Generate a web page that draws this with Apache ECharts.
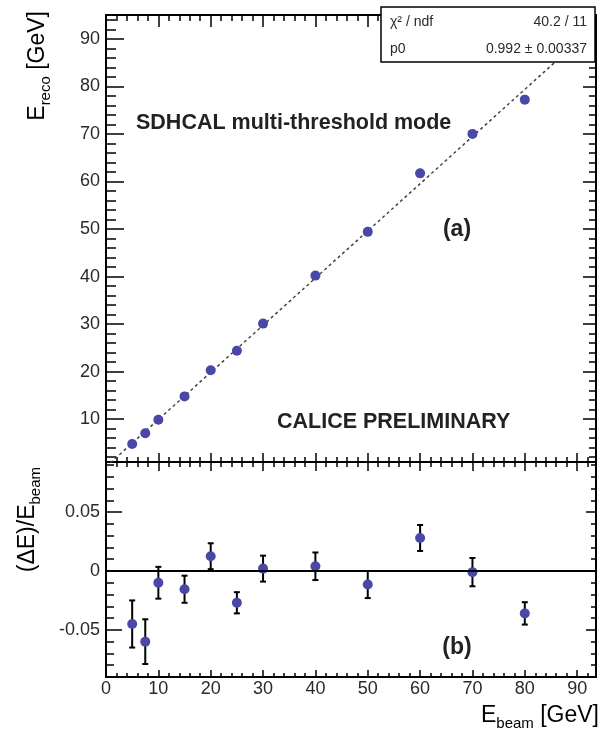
<!DOCTYPE html>
<html>
<head>
<meta charset="utf-8">
<script src="https://cdn.jsdelivr.net/npm/echarts@6/dist/echarts.min.js"></script>
<style>
  html, body { margin: 0; padding: 0; background: #fff; }
  #chart { width: 600px; height: 729px; }
</style>
</head>
<body>
<div id="chart"></div>
<script>
// Beam energies and reconstructed energies (GeV)
const beamEnergy = [5, 7.5, 10, 15, 20, 25, 30, 40, 50, 60, 70, 80];
const recoEnergy = [4.8, 7.05, 9.9, 14.8, 20.3, 24.4, 30.1, 40.2, 49.4, 61.7, 70.0, 77.2];
// Relative deviation (E_reco - E_beam)/E_beam and its uncertainty
const relDeviation = [-0.045, -0.060, -0.010, -0.0155, 0.0125, -0.027, 0.002, 0.004, -0.0115, 0.028, -0.001, -0.036];
const relDeviationErr = [0.020, 0.019, 0.0135, 0.0115, 0.011, 0.009, 0.011, 0.0117, 0.0115, 0.011, 0.012, 0.0095];
// Linear fit E_reco = p0 * E_beam
const fitP0 = 0.992;
const fitP0Err = 0.00337;
const fitChi2 = 40.2;
const fitNdf = 11;
// Axis ranges and tick values
const xRange = [0, 93.6];
const topYRange = [1, 95];
const bottomYRange = [-0.09, 0.0925];
const topYTicks = [10, 20, 30, 40, 50, 60, 70, 80, 90];
const bottomYTicks = [-0.05, 0, 0.05];

const FONT = "'Liberation Sans', Arial, sans-serif";
const INK = '#000';
const TEXT = '#2a2a2a';
const MARK = '#4b47a6';

// Minor tick positions between the labelled ones
const topYMinor = [];
for (let v = 2; v < topYRange[1]; v += 2) if (v % 10 !== 0) topYMinor.push(v);
const bottomYMinor = [];
for (let i = -8; i <= 9; i++) if (i % 5 !== 0) bottomYMinor.push(i / 100);

const fitLine = xRange.map(x => [x, fitP0 * x]);

function xAxisDef(grid, pos, major, minor, labels) {
  return {
    type: 'value', gridIndex: grid, position: pos,
    min: xRange[0], max: xRange[1], interval: 10,
    axisLine: { show: true, onZero: false, lineStyle: { color: INK, width: 2 } },
    axisTick: { show: true, inside: true, length: major, lineStyle: { color: INK, width: 1.5 } },
    minorTick: { show: true, splitNumber: 5, length: minor, lineStyle: { color: INK, width: 1.5 } },
    axisLabel: labels ? { show: true, fontSize: 18, fontFamily: FONT, color: TEXT, margin: 3,
      showMaxLabel: false } : { show: false },
    splitLine: { show: false }, minorSplitLine: { show: false }
  };
}

function yAxisDef(grid, pos, range, ticks, len, labels) {
  return {
    type: 'value', gridIndex: grid, position: pos,
    min: range[0], max: range[1],
    axisLine: { show: true, onZero: false, lineStyle: { color: INK, width: 2 } },
    axisTick: { show: true, inside: true, length: len, customValues: ticks,
      lineStyle: { color: INK, width: 1.5 } },
    axisLabel: labels ? { show: true, customValues: ticks, fontSize: 18, fontFamily: FONT,
      color: TEXT, margin: 6 } : { show: false },
    splitLine: { show: false }
  };
}

// Rich-text styles for axis titles with subscripts
const titleRich = {
  m: { fontSize: 23, fontFamily: FONT, color: TEXT, lineHeight: 23, padding: [0, 0, 9, 0] },
  s: { fontSize: 15, fontFamily: FONT, color: TEXT, lineHeight: 15, verticalAlign: 'bottom' }
};

const chart = echarts.init(document.getElementById('chart'));
chart.setOption({
  animation: false,
  backgroundColor: '#fff',
  grid: [
    { left: 106, top: 15, width: 490, height: 447 },
    { left: 106, top: 462, width: 490, height: 215 }
  ],
  xAxis: [
    xAxisDef(0, 'bottom', 9, 5, false),
    xAxisDef(0, 'top', 12, 6, false),
    xAxisDef(1, 'bottom', 7, 4, true),
    xAxisDef(1, 'top', 9, 5, false)
  ],
  yAxis: [
    yAxisDef(0, 'left', topYRange, topYTicks, 18, true),
    yAxisDef(0, 'left', topYRange, topYMinor, 10, false),
    yAxisDef(0, 'right', topYRange, topYTicks, 13, false),
    yAxisDef(0, 'right', topYRange, topYMinor, 7, false),
    yAxisDef(1, 'left', bottomYRange, bottomYTicks, 16, true),
    yAxisDef(1, 'left', bottomYRange, bottomYMinor, 8, false),
    yAxisDef(1, 'right', bottomYRange, bottomYTicks, 10, false),
    yAxisDef(1, 'right', bottomYRange, bottomYMinor, 5, false)
  ],
  series: [
    {
      type: 'line', xAxisIndex: 0, yAxisIndex: 0, data: fitLine,
      showSymbol: false, clip: true, silent: true, z: 2,
      lineStyle: { color: '#444', width: 1.5, type: [3, 3] }
    },
    {
      type: 'scatter', xAxisIndex: 0, yAxisIndex: 0, z: 3,
      data: beamEnergy.map((x, i) => [x, recoEnergy[i]]),
      symbol: 'circle', symbolSize: 10,
      itemStyle: { color: MARK, opacity: 1 }
    },
    {
      type: 'custom', xAxisIndex: 2, yAxisIndex: 4, z: 3,
      data: beamEnergy.map((x, i) => [x, relDeviation[i], relDeviationErr[i]]),
      encode: { x: 0, y: 1 },
      renderItem: function (params, api) {
        const x = api.value(0), y = api.value(1), e = api.value(2);
        const hi = api.coord([x, y + e]);
        const lo = api.coord([x, y - e]);
        const cap = 3;
        const st = { stroke: INK, lineWidth: 2 };
        return {
          type: 'group', children: [
            { type: 'line', shape: { x1: hi[0], y1: hi[1], x2: lo[0], y2: lo[1] }, style: st },
            { type: 'line', shape: { x1: hi[0] - cap, y1: hi[1], x2: hi[0] + cap, y2: hi[1] }, style: st },
            { type: 'line', shape: { x1: lo[0] - cap, y1: lo[1], x2: lo[0] + cap, y2: lo[1] }, style: st }
          ]
        };
      }
    },
    {
      type: 'scatter', xAxisIndex: 2, yAxisIndex: 4, z: 4,
      data: beamEnergy.map((x, i) => [x, relDeviation[i]]),
      symbol: 'circle', symbolSize: 10,
      itemStyle: { color: MARK, opacity: 1 },
      markLine: {
        silent: true, symbol: 'none', label: { show: false },
        lineStyle: { color: INK, width: 2, type: 'solid' },
        data: [{ yAxis: 0 }]
      }
    }
  ],
  graphic: [
    // Fit statistics box
    { type: 'rect', z: 100, shape: { x: 381, y: 7, width: 214, height: 55 },
      style: { fill: '#fff', stroke: INK, lineWidth: 1.5 } },
    { type: 'text', z: 101, x: 390, y: 22,
      style: { text: 'χ² / ndf', font: `14px ${FONT}`, fill: TEXT, align: 'left', verticalAlign: 'middle' } },
    { type: 'text', z: 101, x: 587, y: 22,
      style: { text: `${fitChi2} / ${fitNdf}`, font: `14px ${FONT}`, fill: TEXT, align: 'right', verticalAlign: 'middle' } },
    { type: 'text', z: 101, x: 390, y: 49,
      style: { text: 'p0', font: `14px ${FONT}`, fill: TEXT, align: 'left', verticalAlign: 'middle' } },
    { type: 'text', z: 101, x: 587, y: 49,
      style: { text: `${fitP0} ± ${fitP0Err}`, font: `14px ${FONT}`, fill: TEXT, align: 'right', verticalAlign: 'middle' } },
    // Panel annotations
    { type: 'text', z: 50, x: 136, y: 123,
      style: { text: 'SDHCAL multi-threshold mode', font: `bold 21.5px ${FONT}`, fill: '#222', align: 'left', verticalAlign: 'middle' } },
    { type: 'text', z: 50, x: 457, y: 230,
      style: { text: '(a)', font: `bold 23px ${FONT}`, fill: '#222', align: 'center', verticalAlign: 'middle' } },
    { type: 'text', z: 50, x: 277, y: 422,
      style: { text: 'CALICE PRELIMINARY', font: `bold 21.5px ${FONT}`, fill: '#222', align: 'left', verticalAlign: 'middle' } },
    { type: 'text', z: 50, x: 457, y: 648,
      style: { text: '(b)', font: `bold 23px ${FONT}`, fill: '#222', align: 'center', verticalAlign: 'middle' } },
    // Axis titles
    { type: 'text', z: 50, x: 42, y: 11, rotation: Math.PI / 2,
      style: { text: '{m|E}{s|reco}{m| [GeV]}', align: 'right', verticalAlign: 'middle', rich: titleRich } },
    { type: 'text', z: 50, x: 32, y: 467, rotation: Math.PI / 2,
      style: { text: '{m|(ΔE)/E}{s|beam}', align: 'right', verticalAlign: 'middle', rich: titleRich } },
    { type: 'text', z: 50, x: 599, y: 720,
      style: { text: '{m|E}{s|beam}{m| [GeV]}', align: 'right', verticalAlign: 'middle', rich: titleRich } }
  ]
});
</script>
</body>
</html>
